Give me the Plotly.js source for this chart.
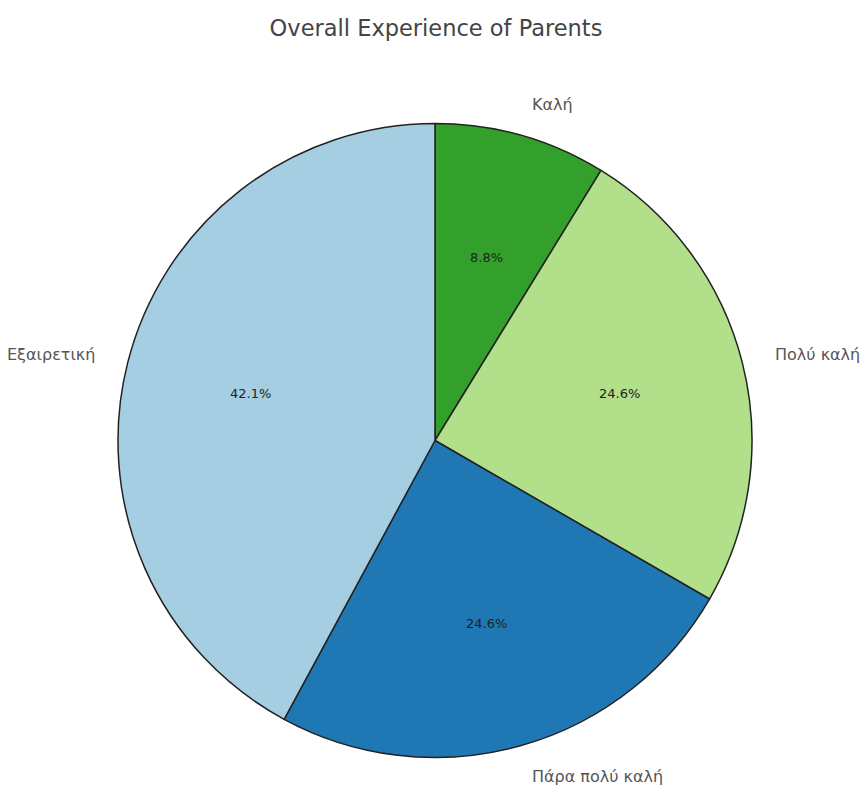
<!DOCTYPE html>
<html>
<head>
<meta charset="utf-8">
<script src="https://cdn.plot.ly/plotly-3.0.1.min.js"></script>
<style>html,body{margin:0;padding:0;background:#fff;}#chart{width:867px;height:790px;}</style>
</head>
<body>
<div id="chart"></div>
<script>
// Data (order as listed counter-clockwise from 12 o'clock)
const categories = ["Εξαιρετική", "Πάρα πολύ καλή", "Πολύ καλή", "Καλή"];
const counts = [24, 14, 14, 5];
const colors = ["#a6cee3", "#1f78b4", "#b2df8a", "#33a02c"];
const chartTitle = "Overall Experience of Parents";

// Layout geometry (pixels)
const W = 867, H = 790;
const CX = 435, CY = 440.5, R = 317;
const FONT = "DejaVu Sans, Liberation Sans, Arial, sans-serif";

const domain = {
  x: [(CX - R) / W, (CX + R) / W],
  y: [1 - (CY + R) / H, 1 - (CY - R) / H]
};

// Label / percentage positions derived from the data (labels at 1.1r, pct at 0.6r)
const total = counts.reduce((a, b) => a + b, 0);
const annotations = [];
let start = 90;
counts.forEach((v, i) => {
  const span = v / total * 360;
  const mid = (start + span / 2) * Math.PI / 180;
  start += span;
  const cx = Math.cos(mid), cy = Math.sin(mid);
  annotations.push({
    xref: "paper", yref: "paper",
    x: (CX + 1.1 * R * cx) / W, y: 1 - (CY - 1.1 * R * cy) / H,
    text: categories[i], showarrow: false,
    xanchor: cx > 0 ? "left" : "right", yanchor: "middle",
    font: {family: FONT, size: 16, color: "#555"}
  });
  annotations.push({
    xref: "paper", yref: "paper",
    x: (CX + 0.6 * R * cx) / W, y: 1 - (CY - 0.6 * R * cy) / H,
    text: (v / total * 100).toFixed(1) + "%", showarrow: false,
    xanchor: "center", yanchor: "middle",
    font: {family: FONT, size: 13, color: "#222"}
  });
});

// Counter-clockwise from 12 o'clock == clockwise over the reversed order
const trace = {
  type: "pie",
  labels: categories.slice().reverse(),
  values: counts.slice().reverse(),
  sort: false,
  direction: "clockwise",
  rotation: 0,
  textinfo: "none",
  hoverinfo: "label+percent",
  marker: {colors: colors.slice().reverse(), line: {color: "#222", width: 1.5}},
  domain: domain,
  showlegend: false
};

const layout = {
  width: W, height: H,
  margin: {l: 0, r: 0, t: 0, b: 0},
  paper_bgcolor: "#fff",
  title: {
    text: chartTitle,
    x: 436 / W, xanchor: "center",
    y: 1 - 28 / H, yanchor: "middle",
    font: {family: FONT, size: 22.5, color: "#444"}
  },
  annotations: annotations,
  showlegend: false
};

Plotly.newPlot("chart", [trace], layout, {displayModeBar: false, staticPlot: true});
</script>
</body>
</html>
